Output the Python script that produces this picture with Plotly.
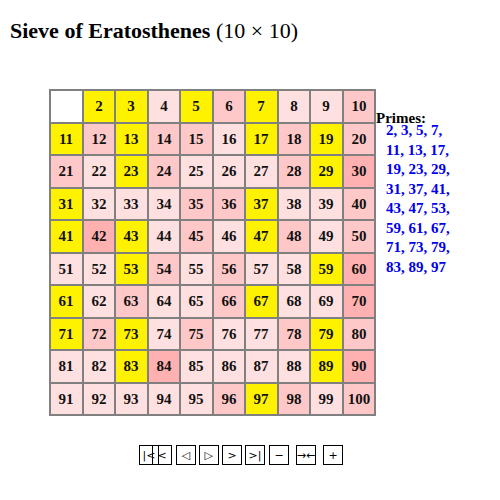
import plotly.graph_objects as go

numbers = list(range(1, 101))
# -1 = prime, 0 = unmarked (1), 1..3 = times crossed out
levels = [
    0, -1, -1, 1, -1, 2, -1, 1, 1, 2,
    -1, 2, -1, 2, 2, 1, -1, 2, -1, 2,
    2, 1, -1, 2, 1, 1, 1, 2, -1, 3,
    -1, 1, 1, 1, 2, 2, -1, 1, 1, 2,
    -1, 3, -1, 1, 2, 1, -1, 2, 1, 2,
    1, 1, -1, 2, 1, 2, 1, 1, -1, 3,
    -1, 1, 2, 1, 1, 2, -1, 1, 1, 3,
    -1, 2, -1, 1, 2, 1, 1, 2, -1, 2,
    1, 1, -1, 3, 1, 1, 1, 1, -1, 3,
    1, 1, 1, 1, 1, 2, -1, 2, 1, 2,
]
primes_text = ["2, 3, 5, 7,", "11, 13, 17,", "19, 23, 29,", "31, 37, 41,",
               "43, 47, 53,", "59, 61, 67,", "71, 73, 79,", "83, 89, 97"]

xs = [(n - 1) % 10 for n in numbers]
ys = [(n - 1) // 10 for n in numbers]
z = [[None] * 10 for _ in range(10)]
t = [[""] * 10 for _ in range(10)]
for n, lv, x, y in zip(numbers, levels, xs, ys):
    z[y][x] = lv
    t[y][x] = "" if n == 1 else "<b>%d</b>" % n

cs = [[0.0, "#fff200"], [0.2, "#fff200"], [0.2, "#ffffff"], [0.4, "#ffffff"],
      [0.4, "#ffe0e0"], [0.6, "#ffe0e0"], [0.6, "#ffc8c8"], [0.8, "#ffc8c8"],
      [0.8, "#ffb0b0"], [1.0, "#ffb0b0"]]

fig = go.Figure(go.Heatmap(
    z=z, text=t, texttemplate="%{text}", zmin=-1.5, zmax=3.5, colorscale=cs,
    showscale=False, xgap=2, ygap=2, hoverinfo="skip",
    textfont=dict(family="Liberation Serif", size=15, color="#111111"),
))

W = 325.0
# positions in the reference picture's pixels
def px(p):
    return (p - 50) / W
def py(p):
    return (415 - p) / W

ann = [dict(text="<b>Primes:</b>", x=px(428), y=py(108), xref="paper", yref="paper",
            showarrow=False, font=dict(family="Liberation Serif", size=15, color="black")),
       dict(text="<b>" + "<br>".join(primes_text) + "</b>", x=px(384), y=py(120),
            xref="paper", yref="paper", xanchor="left", yanchor="top", align="left",
            showarrow=False,
            font=dict(family="Liberation Serif", size=15, color="#0000ee"))]
btns = [(139, "|&lt;"), (162, "&lt;"), (186, "◁"), (209, "▷"), (232, "&gt;"), (255, "&gt;|"),
        (289, "−"), (316, "→←"), (343, "+")]
for bx, lab in btns:
    ann.append(dict(text=lab, x=px(bx), y=py(465), xref="paper", yref="paper", showarrow=False,
                    bordercolor="black", borderwidth=1, borderpad=0, width=18, height=18,
                    font=dict(family="DejaVu Sans", size=11, color="black")))

fig.update_layout(
    width=500, height=500, margin=dict(l=42, r=133, t=82, b=93),
    paper_bgcolor="white", plot_bgcolor="#808080",
    title=dict(text="<b>Sieve of Eratosthenes</b> (10 × 10)", x=0.0, xref="container",
               xanchor="left", y=0.97, yref="container", yanchor="top",
               pad=dict(l=2),
               font=dict(family="Liberation Serif", size=22, color="black")),
    xaxis=dict(range=[-0.5, 9.5], visible=False, fixedrange=True),
    yaxis=dict(range=[9.5, -0.5], visible=False, fixedrange=True),
    annotations=ann,
    shapes=[dict(type="rect", xref="paper", yref="paper", x0=0, y0=0, x1=1, y1=1,
                 line=dict(color="#808080", width=2))],
)
fig.write_html("out.html")
